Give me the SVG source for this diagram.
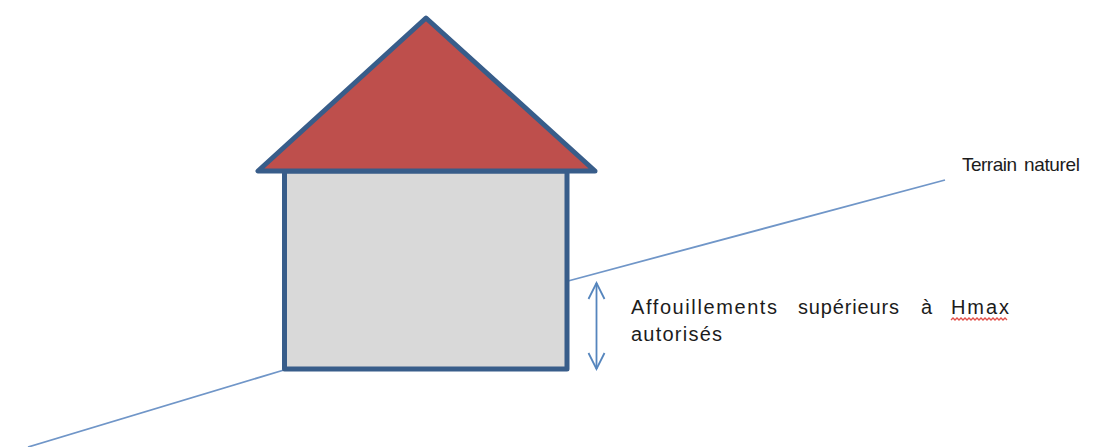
<svg xmlns="http://www.w3.org/2000/svg" width="1108" height="447" viewBox="0 0 1108 447">
<style>
.ground{fill:none;stroke:#7096c8;stroke-width:1.8}
.dim{fill:none;stroke:#5585bd;stroke-width:1.8}
.wall{stroke:#385d8a;stroke-width:5;stroke-linejoin:round}
.t{font-family:"Liberation Sans",Arial,sans-serif;font-size:20px;fill:#1c1c1c}
.s{font-size:19px}
</style>
<defs>
<marker id="open" viewBox="0 0 20 20" refX="18" refY="10" markerWidth="20" markerHeight="20" markerUnits="userSpaceOnUse" orient="auto-start-reverse">
<path d="M2 2 L18 10 L2 18" fill="none" stroke="#5585bd" stroke-width="1.8"/>
</marker>
</defs>
<rect width="1108" height="447" fill="#ffffff"/>
<g id="connectors">
<path class="ground" d="M28 447 L284 370"/>
<path class="ground" d="M568 281 L945 180"/>
<path class="dim" d="M596.500 283 V369" marker-start="url(#open)" marker-end="url(#open)"/>
</g>
<g id="house-body"><rect class="wall" x="284.500" y="171" width="282.500" height="198" fill="#d9d9d9"/></g>
<g id="house-roof"><path class="wall" d="M426 18 L258 171 H595 Z" fill="#be4f4c"/></g>
<g id="label-terrain"><text class="t s" x="962" y="171" textLength="55">Terrain</text><text class="t s" x="1024" y="171" textLength="56">naturel</text></g>
<g id="label-affouillements">
<text class="t" x="631" y="314" textLength="146">Affouillements</text>
<text class="t" x="798" y="314" textLength="101">supérieurs</text>
<text class="t" x="921" y="314">à</text>
<text class="t" x="951" y="314" textLength="58">Hmax</text>
<text class="t" x="631" y="341" textLength="91">autorisés</text>
<path d="M951 320 l2 -2 l2 2 l2 -2 l2 2 l2 -2 l2 2 l2 -2 l2 2 l2 -2 l2 2 l2 -2 l2 2 l2 -2 l2 2 l2 -2 l2 2 l2 -2 l2 2 l2 -2 l2 2 l2 -2 l2 2 l2 -2 l2 2 l2 -2 l2 2 l2 -2 l2 2" fill="none" stroke="#e2504a" stroke-width="1.300"/>
</g>
</svg>
